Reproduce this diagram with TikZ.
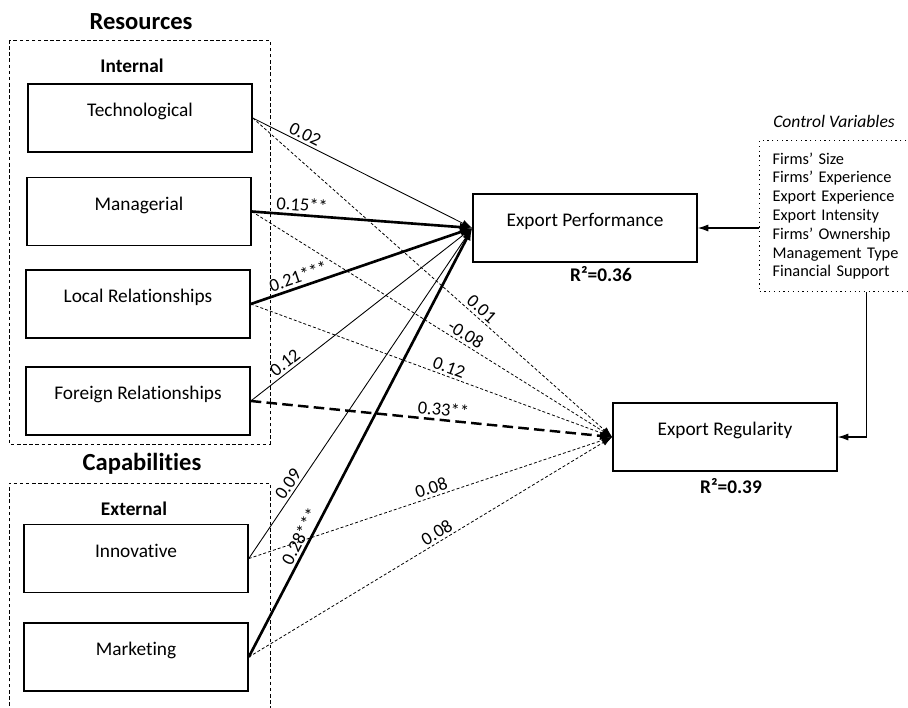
\documentclass[tikz,border=0pt]{standalone}
\usepackage{fontspec}
\setmainfont{Carlito}[Ligatures=NoCommon]
\usetikzlibrary{arrows.meta,calc}

\begin{document}
\begin{tikzpicture}[x=0.02cm, y=-0.02cm,
    varbox/.style={draw, line width=0.9pt, minimum width=4.48cm, minimum height=1.36cm,
        font=\fontsize{11}{13}\selectfont, text height=8pt, text depth=9.7pt},
    heading/.style={font=\fontsize{14}{16}\selectfont\bfseries},
    subheading/.style={font=\fontsize{11}{13}\selectfont\bfseries},
    coef/.style={font=\fontsize{10.5}{12}\selectfont, sloped, above, inner sep=1.5pt},
    effect/.style={line width=0.5pt, -{Latex[length=6pt,width=4pt]}},
    strong/.style={line width=1.5pt, -{Latex[length=7pt,width=5pt]}},
    weak/.style={line width=0.45pt, dash pattern=on 1.7pt off 1.2pt, -{Latex[length=6pt,width=4pt]}},
    weakstrong/.style={line width=1.4pt, dash pattern=on 6pt off 3pt, -{Latex[length=7pt,width=5pt]}},
    group/.style={draw, line width=0.5pt, dash pattern=on 2pt off 1.5pt}]
        \useasboundingbox (0,0) rectangle (908,707);
        %%%%%%%%%%%%%%%%%%%%%%%% Recursos %%%%%%%%%%%%%%%%%%%%%%%%%%%%%%%%%%%
        \node[heading] (res) at (141,22) {Resources};
        \draw[group] (9,40) rectangle (270,444); %Marco punteado
        \node[subheading] (int) at (132,66) {Internal};
        \node[varbox] (tech) at (140,118) {Technological};
        \node[varbox] (man) at (139,211.5) {Managerial};
        \node[varbox] (loc) at (138,304) {Local Relationships};
        \node[varbox] (for) at (138,401) {Foreign Relationships};
        %%%%%%%%%%%%%%%%%%%%%%%% Capacidades %%%%%%%%%%%%%%%%%%%%%%%%%%%%%%%%
        \node[heading] (cap) at (142,464) {Capabilities};
        \draw[group] (9,712) -- (9,483) -- (270,483) -- (270,712); %Marco abierto abajo
        \node[subheading] (ext) at (134,509) {External};
        \node[varbox] (inn) at (136,558.5) {Innovative};
        \node[varbox] (mar) at (136,657) {Marketing};
        %%%%%%%%%%%%%%%%%%%%%%%% Resultados %%%%%%%%%%%%%%%%%%%%%%%%%%%%%%%%%
        \node[varbox] (ep) at (585,228) {Export Performance};
        \node[subheading] (r2ep) at (601,274) {R²=0.36};
        \node[varbox] (er) at (725,437) {Export Regularity};
        \node[subheading] (r2er) at (731,486) {R²=0.39};
        %%%%%%%%%%%%%%%%%%%%%%%% Variables de control %%%%%%%%%%%%%%%%%%%%%%%
        \node[font=\fontsize{10}{12}\selectfont\itshape] (ctitle) at (834,121) {Control Variables};
        \node[draw, dotted, line width=0.7pt, anchor=north west, align=left, text width=2.9cm,
            inner xsep=0.26cm, inner ysep=0.24cm, font=\fontsize{9.3}{10.7}\selectfont] (ctrl) at (759,140)
            {Firms’ Size\\Firms’ Experience\\Export Experience\\Export Intensity\\Firms’ Ownership\\Management Type\\Financial Support};
        \coordinate (cdown) at ($(ctrl.south west)!0.625!(ctrl.south east)$);
        \draw[effect, line width=0.6pt] (ep.east -| ctrl.west) -- (ep.east);
        \draw[effect, line width=0.6pt] (cdown) |- (er.east);
        %%%%%%%%%%%%%%%%%%%%%%%% Efectos sobre regularidad (punteados) %%%%%%%%%%%%
        \draw[weak] (tech.east) -- node[coef, pos=0.62] {0.01} (er.west);
        \draw[weak] (man.east) -- node[coef, pos=0.58] {-0.08} (er.west);
        \draw[weak] (loc.east) -- node[coef, pos=0.54] {0.12} (er.west);
        \draw[weakstrong] (for.east) -- node[coef, pos=0.53] {0.33**} (er.west);
        \draw[weak] (inn.east) -- node[coef, pos=0.51] {0.08} (er.west);
        \draw[weak] (mar.east) -- node[coef, pos=0.53] {0.08} (er.west);
        %%%%%%%%%%%%%%%%%%%%%%%% Efectos sobre desempeño %%%%%%%%%%%%%%%%%%%%%%%%
        \draw[effect] (tech.east) -- node[coef, pos=0.22] {0.02} (ep.west);
        \draw[strong] (man.east) -- node[coef, pos=0.225] {0.15**} (ep.west);
        \draw[strong] (loc.east) -- node[coef, pos=0.23] {0.21***} (ep.west);
        \draw[effect] (for.east) -- node[coef, pos=0.18] {0.12} (ep.west);
        \draw[effect] (inn.east) -- node[coef, pos=0.21] {0.09} (ep.west);
        \draw[strong] (mar.east) -- node[coef, pos=0.27] {0.28***} (ep.west);
      \end{tikzpicture}
\end{document}
